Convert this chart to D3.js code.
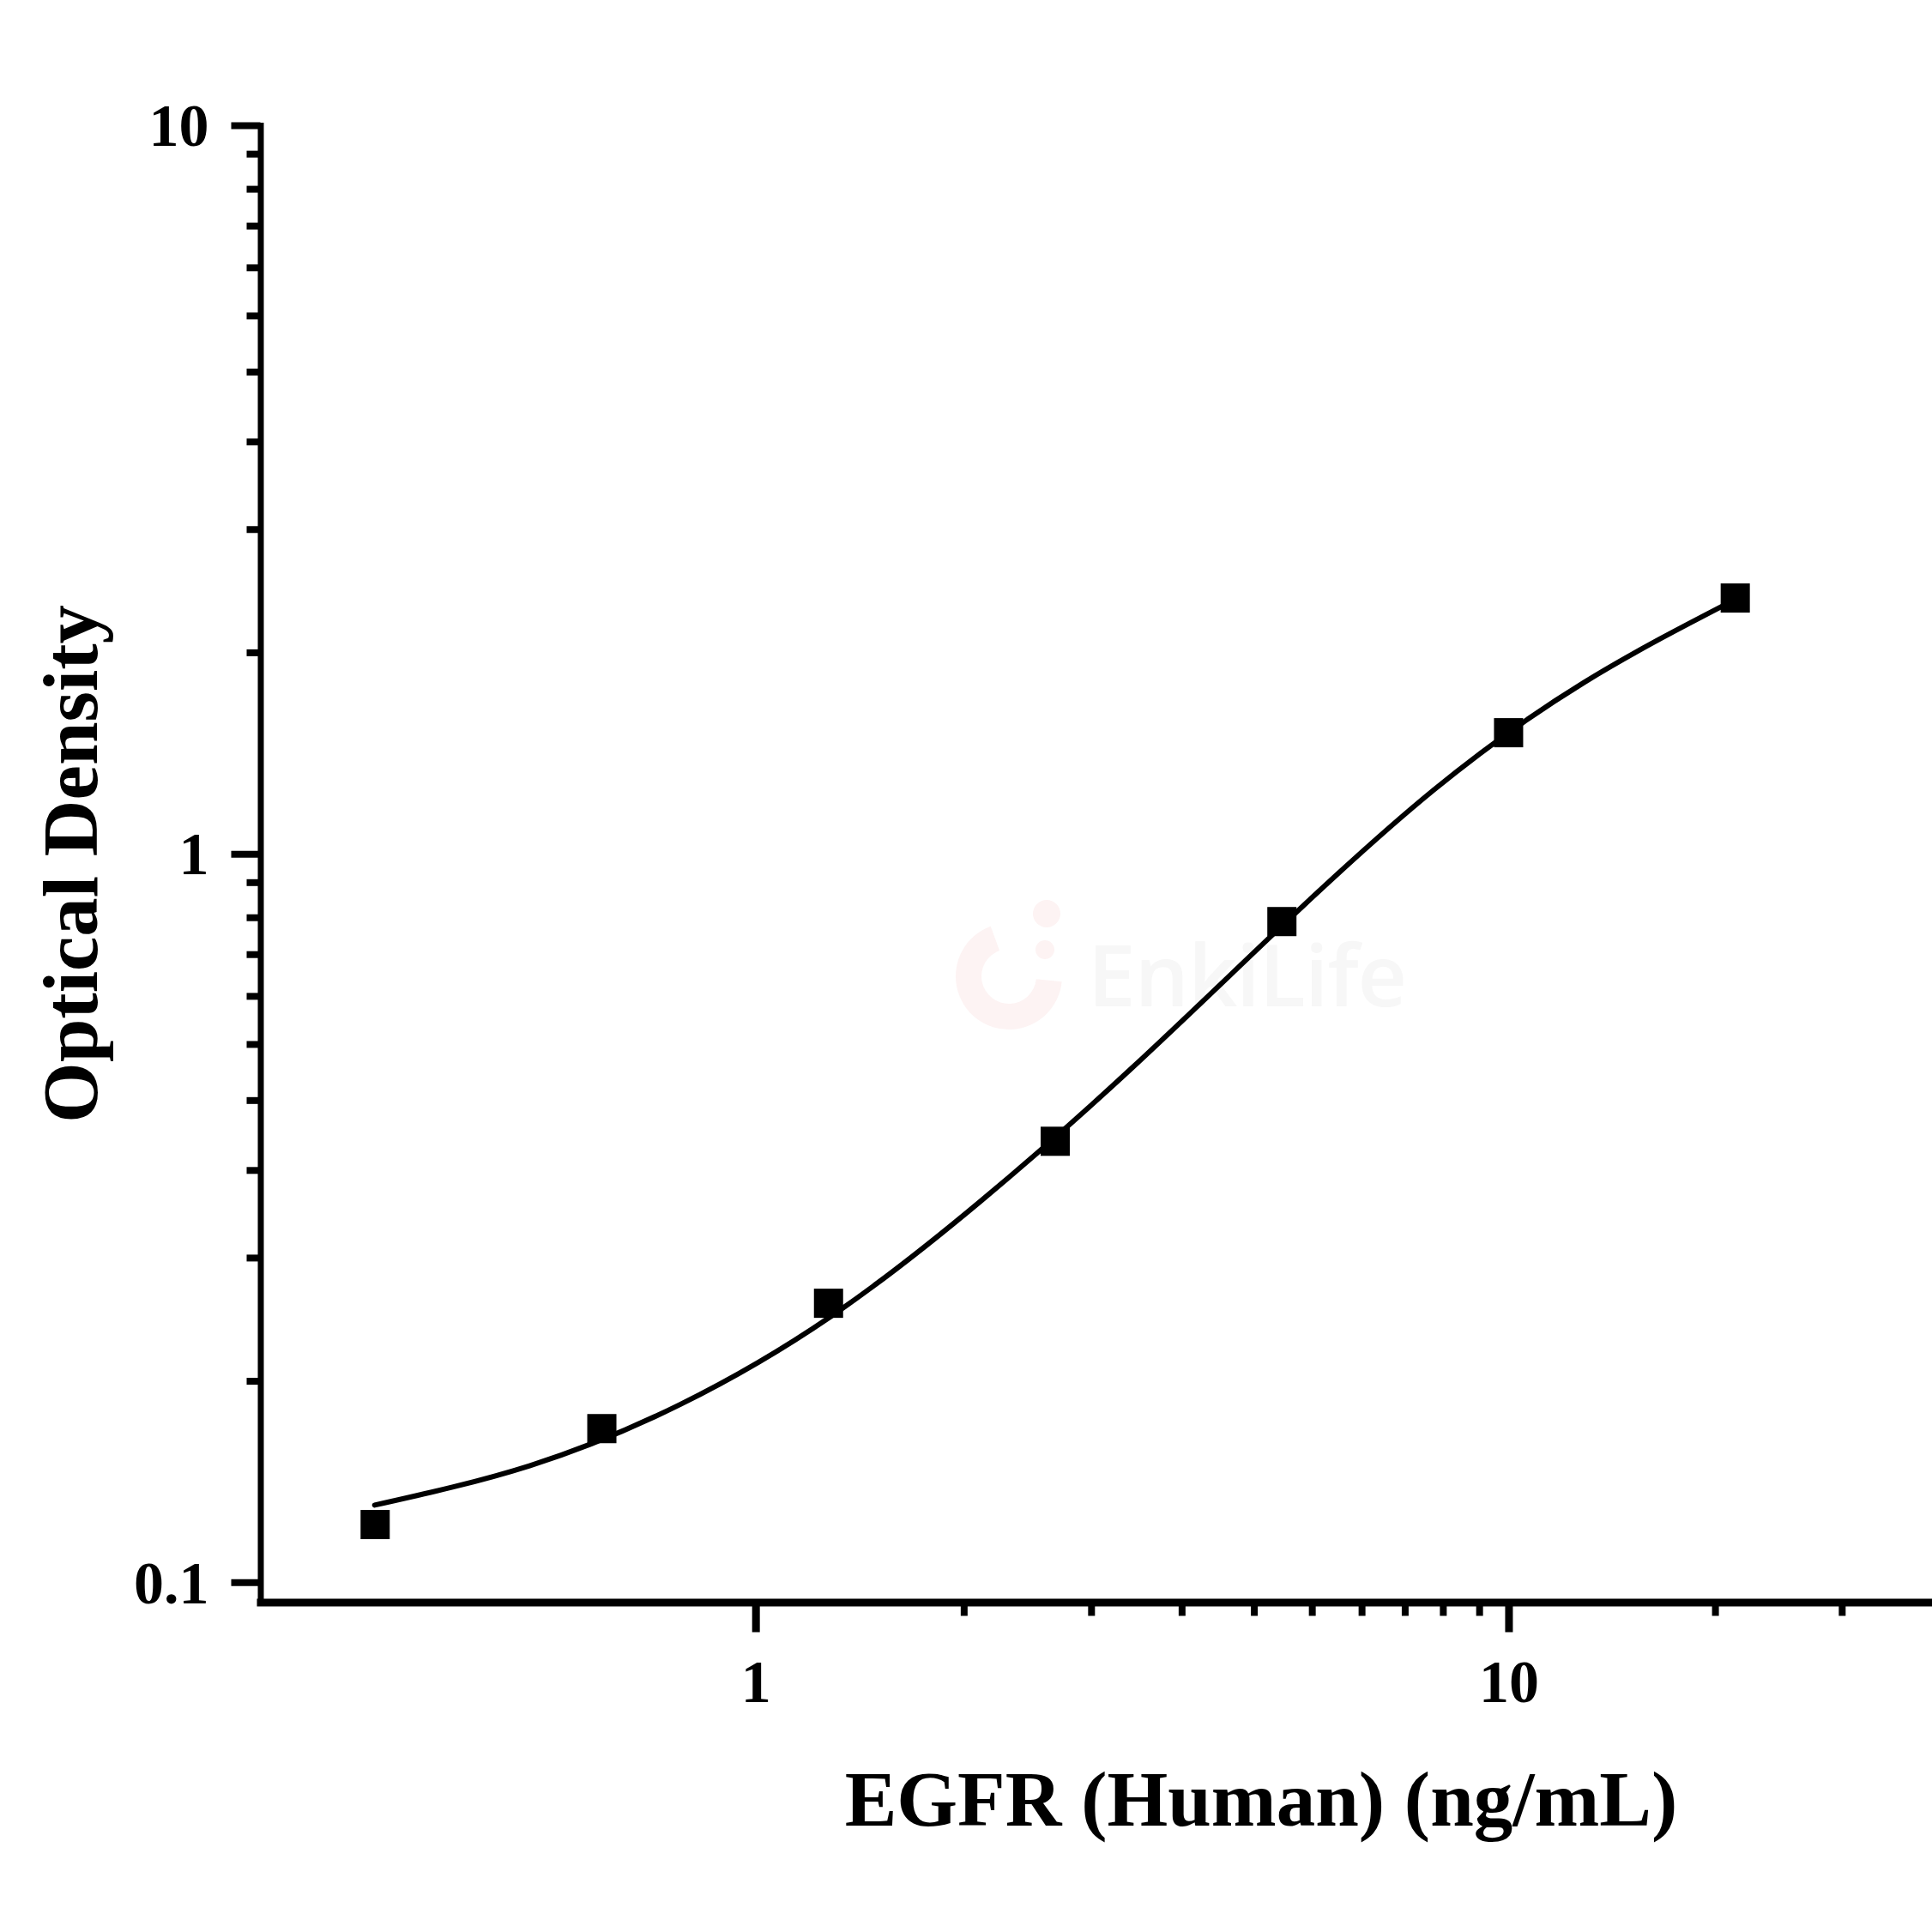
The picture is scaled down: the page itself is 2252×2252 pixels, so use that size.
<!DOCTYPE html>
<html>
<head>
<meta charset="utf-8">
<script src="https://cdn.jsdelivr.net/npm/d3@7"></script>
<style>
  html, body { margin: 0; padding: 0; background: #fff; }
  svg { display: block; }
</style>
</head>
<body>
<div id="chart"></div>
<script>
// standard points (ng/mL, OD)
const concentrations = [0.3125, 0.625, 1.25, 2.5, 5, 10, 20];
const odValues = [0.120, 0.1625, 0.2415, 0.403, 0.807, 1.466, 2.244];

// fitted curve
const fitConc = [0.312, 0.501, 0.794, 1.259, 1.995, 3.162, 5.012, 7.943, 12.59, 20.09];
const fitOd = [0.1276, 0.1445, 0.1754, 0.2317, 0.3342, 0.5082, 0.798, 1.222, 1.718, 2.239];

// ticks
const xMajorTicks = [1, 10];
const xMinorTicks = [1.89, 2.79, 3.68, 4.59, 5.48, 6.38, 7.28, 8.18, 9.14, 18.8, 27.7];
const yMajorTicks = [0.1, 1, 10];
const yMinorTicks = [0.189, 0.279, 0.368, 0.459, 0.548, 0.638, 0.728, 0.818, 0.914,
                     1.89, 2.79, 3.68, 4.59, 5.48, 6.38, 7.28, 8.18, 9.14];

const xTitle = "EGFR (Human) (ng/mL)";
const yTitle = "Optical Density";
const watermark = "EnkiLife";

const width = 2252, height = 2252;
const serif = "'Liberation Serif', 'Times New Roman', serif";

const x = d3.scaleLog().domain([0.22, 36.5]).range([303.5, 2252]);
const y = d3.scaleLog().domain([0.0939, 10]).range([1867.5, 146]);

const svg = d3.select("#chart")
  .append("svg")
  .attr("width", width)
  .attr("height", height)
  .attr("viewBox", [0, 0, width, height]);

// faint watermark
const wm = svg.append("g").attr("transform", "translate(1176,1138)");
wm.append("path")
  .attr("d", d3.arc().innerRadius(32).outerRadius(62).startAngle(Math.PI / 2 + 0.1).endAngle(2 * Math.PI - 0.35)())
  .attr("fill", "#fdf3f3");
wm.append("circle").attr("cx", 44).attr("cy", -73).attr("r", 16).attr("fill", "#fdf3f3");
wm.append("circle").attr("cx", 42).attr("cy", -31).attr("r", 11).attr("fill", "#fdf3f3");
svg.append("text")
  .attr("x", 1268)
  .attr("y", 1173)
  .attr("textLength", 372)
  .attr("font-family", "'Open Sans', sans-serif")
  .attr("font-weight", 600)
  .attr("font-size", 100)
  .attr("fill", "#f7f7f7")
  .text(watermark);

// axes
const yAxis = svg.append("g")
  .attr("transform", "translate(303.5,0)")
  .call(d3.axisLeft(y).tickValues(yMajorTicks).tickSize(34).tickSizeOuter(0).tickFormat(d3.format("")));
yAxis.select(".domain").attr("stroke-width", 7).attr("stroke-linecap", "square");
yAxis.selectAll(".tick line").attr("stroke-width", 8);
yAxis.selectAll(".tick text")
  .attr("x", -60)
  .attr("dy", "0.34em")
  .attr("font-family", serif)
  .attr("font-weight", "bold")
  .attr("font-size", 70)
  .attr("fill", "#000");

svg.append("g")
  .attr("transform", "translate(303.5,0)")
  .call(d3.axisLeft(y).tickValues(yMinorTicks).tickSize(16).tickFormat(""))
  .call((g) => g.select(".domain").remove())
  .selectAll(".tick line").attr("stroke-width", 8);

const xAxis = svg.append("g")
  .attr("transform", "translate(0,1867.5)")
  .call(d3.axisBottom(x).tickValues(xMajorTicks).tickSize(35).tickSizeOuter(0).tickFormat(d3.format("")));
xAxis.select(".domain").attr("stroke-width", 9).attr("stroke-linecap", "square");
xAxis.selectAll(".tick line").attr("stroke-width", 9);
xAxis.selectAll(".tick text")
  .attr("y", 116)
  .attr("dy", 0)
  .attr("font-family", serif)
  .attr("font-weight", "bold")
  .attr("font-size", 70)
  .attr("fill", "#000");

svg.append("g")
  .attr("transform", "translate(0,1867.5)")
  .call(d3.axisBottom(x).tickValues(xMinorTicks).tickSize(16).tickFormat(""))
  .call((g) => g.select(".domain").remove())
  .selectAll(".tick line").attr("stroke-width", 8);

// titles
svg.append("text")
  .attr("x", 1470)
  .attr("y", 2128)
  .attr("text-anchor", "middle")
  .attr("font-family", serif)
  .attr("font-weight", "bold")
  .attr("font-size", 91)
  .text(xTitle);

svg.append("text")
  .attr("transform", "translate(113,1007) rotate(-90)")
  .attr("text-anchor", "middle")
  .attr("font-family", serif)
  .attr("font-weight", "bold")
  .attr("font-size", 91)
  .text(yTitle);

// fitted curve
const fit = fitConc.map((c, i) => [c, fitOd[i]]);
const line = d3.line()
  .curve(d3.curveNatural)
  .x((d) => x(d[0]))
  .y((d) => y(d[1]));

svg.append("path")
  .datum(fit)
  .attr("fill", "none")
  .attr("stroke", "#000")
  .attr("stroke-width", 6)
  .attr("stroke-linecap", "round")
  .attr("d", line);

// points
const size = 34;
svg.append("g")
  .selectAll("rect")
  .data(concentrations.map((c, i) => [c, odValues[i]]))
  .join("rect")
  .attr("x", (d) => x(d[0]) - size / 2)
  .attr("y", (d) => y(d[1]) - size / 2)
  .attr("width", size)
  .attr("height", size)
  .attr("fill", "#000");
</script>
</body>
</html>
